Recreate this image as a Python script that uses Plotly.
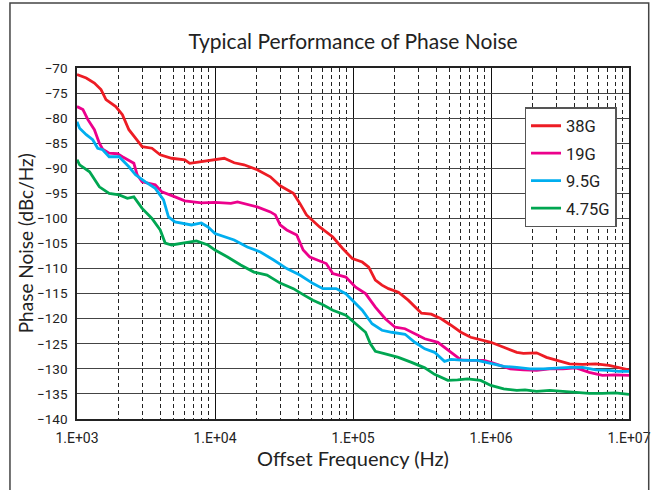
import numpy as np
import plotly.graph_objects as go

# ---- data (log10 of offset frequency in Hz, phase noise in dBc/Hz) ----
red_logf = [3.0, 3.067, 3.126, 3.174, 3.210, 3.281, 3.329, 3.376, 3.424, 3.472, 3.543, 3.603, 3.686,
            3.781, 3.817, 3.901, 4.0, 4.067, 4.139, 4.210, 4.306, 4.401, 4.472, 4.568, 4.615, 4.663,
            4.758, 4.854, 4.925, 4.995, 5.067, 5.114, 5.162, 5.210, 5.257, 5.329, 5.400, 5.496, 5.567,
            5.639, 5.710, 5.782, 5.853, 5.925, 5.999, 6.092, 6.187, 6.235, 6.330, 6.402, 6.473, 6.569,
            6.664, 6.759, 6.855, 6.926, 7.0]
red_db = [-71.3, -72, -73, -74.3, -76.3, -77.7, -79.3, -82.3, -84, -85.7, -86, -87.3, -88,
          -88.3, -89, -88.7, -88.2, -88, -88.9, -89.3, -90.3, -91.7, -93.5, -95, -97, -99.3,
          -101.7, -103.7, -106, -108, -108.7, -109.7, -112.3, -113.3, -114, -114.7, -116.3, -118.9, -119.1,
          -120, -121.3, -122.7, -123.7, -124.2, -124.7, -125.7, -126.7, -126.9, -126.8, -127.7, -128.3, -129,
          -129.1, -129, -129.3, -129.7, -130.2]

mag_logf = [3.0, 3.043, 3.079, 3.126, 3.162, 3.186, 3.233, 3.293, 3.329, 3.412, 3.436, 3.472, 3.567,
            3.615, 3.710, 3.781, 3.901, 4.0, 4.115, 4.163, 4.306, 4.401, 4.437, 4.472, 4.520, 4.592,
            4.639, 4.687, 4.806, 4.854, 4.948, 5.019, 5.091, 5.162, 5.234, 5.305, 5.377, 5.448, 5.520,
            5.615, 5.710, 5.782, 5.853, 5.949, 5.999, 6.068, 6.139, 6.235, 6.330, 6.426, 6.521, 6.616,
            6.712, 6.807, 6.902, 7.0]
mag_db = [-77.7, -78.3, -80.3, -82.3, -85, -86.2, -87, -87.1, -87.7, -89, -91.3, -92.7, -93.3,
          -94.7, -95.7, -96.5, -96.9, -96.8, -97, -96.7, -97.7, -98.7, -99.3, -101.3, -102.3, -103.3,
          -106.3, -107.7, -109, -111, -111.7, -113.7, -115, -117.7, -120, -121.7, -122, -123, -124,
          -124.7, -126.7, -128.2, -128.3, -128.3, -128.7, -129.3, -130, -130.2, -130.3, -130, -130, -129.8,
          -130.7, -131.3, -131.2, -131.3]

blu_logf = [3.0, 3.019, 3.067, 3.114, 3.150, 3.186, 3.233, 3.305, 3.376, 3.424, 3.496, 3.567, 3.627,
            3.663, 3.710, 3.781, 3.829, 3.901, 3.949, 4.0, 4.067, 4.139, 4.234, 4.329, 4.425, 4.520,
            4.615, 4.711, 4.782, 4.878, 4.948, 4.995, 5.067, 5.138, 5.210, 5.281, 5.377, 5.448, 5.520,
            5.591, 5.663, 5.710, 5.806, 5.901, 5.999, 6.092, 6.187, 6.283, 6.378, 6.473, 6.569, 6.664,
            6.759, 6.855, 6.926, 7.0]
blu_db = [-80.7, -82, -83.3, -84.3, -86, -86.3, -87.7, -87.7, -89.7, -91.3, -92.7, -94, -96.3,
          -99.7, -100.7, -101, -101.3, -100.9, -101.7, -103, -103.7, -104.3, -105.7, -106.7, -108.3, -110,
          -111.3, -113, -114, -114, -115, -116.3, -118.3, -121, -122.3, -122.7, -123.1, -124.7, -126,
          -126.7, -128.5, -128.1, -128.3, -128.3, -128.9, -129.5, -129.7, -130, -130, -129.8, -129.7, -129.7,
          -130.2, -130.3, -130.5, -130.5]

grn_logf = [3.0, 3.019, 3.091, 3.162, 3.233, 3.305, 3.365, 3.412, 3.472, 3.543, 3.603, 3.639, 3.686,
            3.758, 3.865, 3.949, 4.0, 4.091, 4.186, 4.282, 4.377, 4.472, 4.568, 4.639, 4.710, 4.782,
            4.854, 4.948, 5.019, 5.091, 5.126, 5.162, 5.234, 5.329, 5.424, 5.520, 5.591, 5.687, 5.758,
            5.830, 5.925, 5.999, 6.092, 6.187, 6.247, 6.330, 6.426, 6.521, 6.616, 6.712, 6.807, 6.902,
            7.0]
grn_db = [-88.3, -89.3, -90.7, -93.7, -95, -95.3, -96, -95.7, -98, -100, -102.3, -104.9, -105.3,
          -105, -104.5, -105.3, -106.3, -107.7, -109.3, -110.7, -111.3, -112.9, -114, -115.2, -116.3, -117.2,
          -118.3, -119.3, -121, -122.7, -125, -126.5, -127, -127.7, -128.7, -129.8, -131.1, -132.3, -132.2,
          -132, -132.3, -133.3, -134, -134.3, -134.2, -134.5, -134.3, -134.5, -134.7, -134.9, -134.9, -134.8,
          -135.1]

series_names = ["38G", "19G", "9.5G", "4.75G"]
series_colors = ["#ED1C24", "#EC008C", "#00AEEF", "#00A651"]
series_logf = [red_logf, mag_logf, blu_logf, grn_logf]
series_db = [red_db, mag_db, blu_db, grn_db]

x_tickvals = [1e3, 1e4, 1e5, 1e6, 1e7]
x_ticktext = ["1.E+03", "1.E+04", "1.E+05", "1.E+06", "1.E+07"]
y_tickvals = list(range(-70, -141, -5))

fig = go.Figure()
for i, (name, color, lf, db) in enumerate(zip(series_names, series_colors, series_logf, series_db)):
    fig.add_trace(go.Scatter(
        x=10 ** np.array(lf), y=db, mode="lines", name=name,
        line=dict(color=color, width=2.8), legendgroup=name,
    ))

x_tick_font = dict(family="Roboto, Liberation Sans, Arial", size=14, color="#222")
y_tick_font = dict(family="Roboto, Liberation Sans, Arial", size=13.5, color="#222")
title_family = "Lato, Open Sans, sans-serif"

fig.update_layout(
    width=663, height=490,
    margin=dict(l=77, r=26, t=68, b=71),
    paper_bgcolor="white", plot_bgcolor="white",
    title=dict(text="Typical Performance of Phase Noise",
               font=dict(family=title_family, size=21, color="#222"),
               x=0.5, xref="paper", xanchor="center", y=1 - 42 / 490, yanchor="middle"),
    showlegend=True,
    legend=dict(x=(531 - 77) / 560, y=(419 - 107) / 351, xanchor="left", yanchor="top",
                bgcolor="white", bordercolor="#555", borderwidth=1.5,
                font=dict(family="Roboto, Liberation Sans, Arial", size=16.5, color="#222"),
                traceorder="grouped", tracegroupgap=3, itemwidth=30),
    xaxis=dict(type="log", range=[3, 7], tickvals=x_tickvals, ticktext=x_ticktext,
               showgrid=True, gridcolor="#111", gridwidth=1,
               minor=dict(dtick="D1", showgrid=True, gridcolor="#222", gridwidth=1,
                          griddash="4px,3px", ticks=""),
               showline=True, linecolor="#222", linewidth=1.5, mirror=True,
               ticks="", tickfont=x_tick_font, ticklabelstandoff=5, zeroline=False,
               title=dict(text="Offset Frequency (Hz)", standoff=5,
                          font=dict(family=title_family, size=20, color="#222"))),
    yaxis=dict(range=[-140, -70], tickvals=y_tickvals,
               showgrid=True, gridcolor="#444", gridwidth=1.2,
               showline=True, linecolor="#222", linewidth=1.5, mirror=True,
               ticks="", tickfont=y_tick_font, ticklabelstandoff=5, zeroline=False),
    annotations=[dict(text="Phase Noise (dBc/Hz)", textangle=-90, showarrow=False,
                      xref="paper", yref="paper", x=(25 - 77) / 560, y=0.5,
                      xanchor="center", yanchor="middle",
                      font=dict(family=title_family, size=19, color="#222"))],
)

# outer chart frame (left, top, right)
fig.add_shape(type="path", xref="paper", yref="paper",
              path="M {x0},{y0} L {x0},{y1} L {x1},{y1} L {x1},{y0}".format(
                  x0=(9 - 77) / 560, x1=(657 - 77) / 560, y0=(419 - 500) / 351, y1=(419 - 3) / 351),
              line=dict(color="#444", width=1.5))

fig.write_html("out.html")
